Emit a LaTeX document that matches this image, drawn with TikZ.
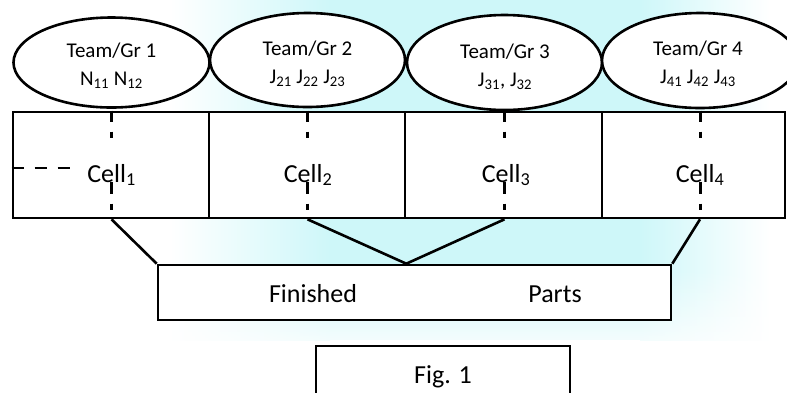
\documentclass[tikz,border=0pt]{standalone}
\usepackage{fontspec}
\setmainfont{Carlito}
\usetikzlibrary{shapes.geometric,fadings}
\definecolor{bgcyan}{RGB}{206,247,249}
\tikzfading[name=fadedown, top color=transparent!100, bottom color=transparent!0]
\begin{document}
\begin{tikzpicture}[x=1pt,y=-1pt,
  thick line/.style={line width=2.6pt},
  team/.style={ellipse, draw, thick line, fill=white, inner sep=0pt},
  teamtext/.style={align=center, inner sep=0pt, font=\fontsize{21}{28}\selectfont},
  cellbox/.style={rectangle, draw, thick line, fill=white, inner sep=0pt, minimum height=106pt},
  bigtext/.style={font=\fontsize{26}{30}\selectfont, inner sep=0pt, anchor=base},
  dashdot/.style={line width=3pt, dash pattern=on 11pt off 10pt on 6pt off 44pt on 12pt off 10pt on 6pt off 20pt},
  hdash/.style={line width=2.8pt, dash pattern=on 12pt off 11pt},
  conn/.style={thick line}]
\useasboundingbox (0,0) rectangle (787,392);
% background tint
\shade[left color=white, right color=bgcyan] (170,0) rectangle (330,340);
\fill[bgcyan] (330,0) rectangle (640,340);
\shade[left color=bgcyan, right color=white] (640,0) rectangle (770,340);
\fill[white, path fading=fadedown] (0,270) rectangle (787,362);
% cells
\node[cellbox, minimum width=196pt] (c1) at (111,165) {};
\node[cellbox, minimum width=196pt] (c2) at (307,165) {};
\node[cellbox, minimum width=197pt] (c3) at (503.5,165) {};
\node[cellbox, minimum width=183pt] (c4) at (693.5,165) {};
% teams
\node[team, minimum width=196pt, minimum height=90pt] (e1) at (111.5,62.5) {};
\node[team, minimum width=195pt, minimum height=94pt] (e2) at (307.5,60) {};
\node[team, minimum width=195pt, minimum height=95pt] (e3) at (504.5,62.5) {};
\node[team, minimum width=196pt, minimum height=95pt] (e4) at (700,60.5) {};
\node[teamtext, anchor=base] (te1) at (111.5,85) {Team/Gr 1\\N\textsubscript{11} N\textsubscript{12}};
\node[teamtext, anchor=base] (te2) at (307.5,83) {Team/Gr 2\\J\textsubscript{21} J\textsubscript{22} J\textsubscript{23}};
\node[teamtext, anchor=base] (te3) at (505,86) {Team/Gr 3\\J\textsubscript{31}, J\textsubscript{32}};
\node[teamtext, anchor=base] (te4) at (698,83) {Team/Gr 4\\J\textsubscript{41} J\textsubscript{42} J\textsubscript{43}};
% cell labels
\node[bigtext] (t1) at (111.5,182) {Cell\textsubscript{1}};
\node[bigtext] (t2) at (308,182) {Cell\textsubscript{2}};
\node[bigtext] (t3) at (506,182) {Cell\textsubscript{3}};
\node[bigtext] (t4) at (700,182) {Cell\textsubscript{4}};
% dash-dot lines
\draw[dashdot] (c1.north -| e1.south) -- (c1.south -| e1.south);
\draw[dashdot] (c2.north -| e2.south) -- (c2.south -| e2.south);
\draw[dashdot] (c3.north -| e3.south) -- (c3.south -| e3.south);
\draw[dashdot] (c4.north -| e4.south) -- (c4.south -| e4.south);
% horizontal dashed line
\coordinate (hend) at (75,168);
\draw[hdash] (c1.west |- hend) -- (hend);
% finished parts
\node[rectangle, draw, thick line, fill=white, minimum width=513pt, minimum height=55pt, inner sep=0pt] (fp) at (414.5,292.5) {};
\node[bigtext] (fin) at (313,302) {Finished};
\node[bigtext] (par) at (555,302) {Parts};
\coordinate (apex) at (fp.north -| c2.east);
\draw[conn] (c1.south -| e1.south) -- (fp.north west);
\draw[conn, line join=miter] (c2.south -| e2.south) -- (apex) -- (c3.south -| e3.south);
\draw[conn] (c4.south -| e4.south) -- (fp.north east);
% figure caption
\node[rectangle, draw, thick line, fill=white, minimum width=254pt, minimum height=54pt, inner sep=0pt] (fig) at (443,373) {};
\node[bigtext] (figt) at (443,383) {Fig. 1};
\end{tikzpicture}
\end{document}
